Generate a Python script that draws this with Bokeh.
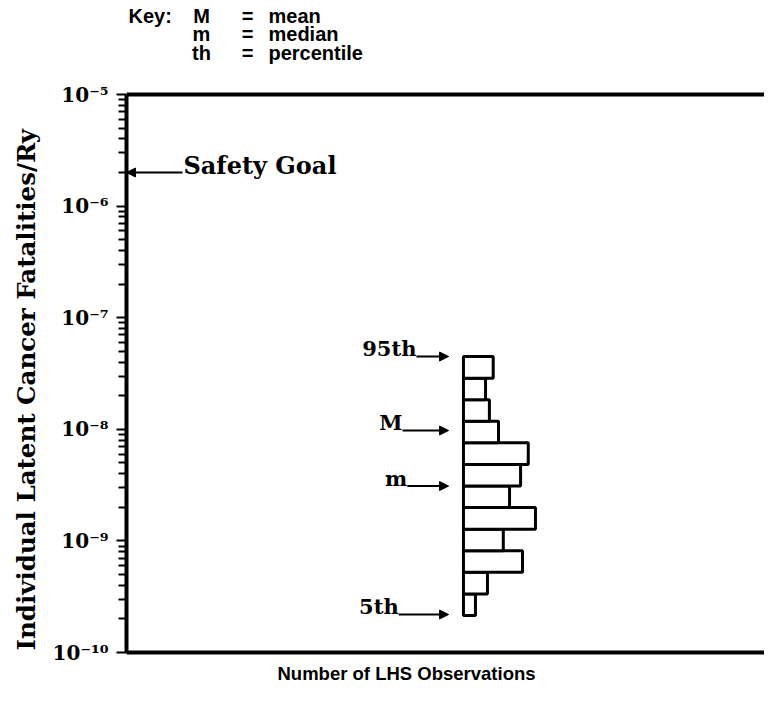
from bokeh.plotting import figure
from bokeh.models import (Range1d, FixedTicker, CustomJSTickFormatter, Span,
                          Arrow, NormalHead, Title, ColumnDataSource)
from bokeh.core.properties import value
from bokeh.embed import file_html
from bokeh.resources import INLINE
import math

# ---- data ----
tick_values = [1e-10, 1e-9, 1e-8, 1e-7, 1e-6, 1e-5]
tick_labels = ["10\u207b\u00b9\u2070", "10\u207b\u2079", "10\u207b\u2078",
               "10\u207b\u2077", "10\u207b\u2076", "10\u207b\u2075"]

# histogram bin edges (fatalities / Ry), bottom to top
bin_edges = [2.15e-10, 3.35e-10, 5.24e-10, 8.17e-10, 1.27e-9, 1.99e-9, 3.10e-9,
             4.84e-9, 7.56e-9, 1.18e-8, 1.84e-8, 2.87e-8, 4.49e-8]
# number of LHS observations per bin, bottom to top
bin_counts = [2.5, 5.0, 12.3, 8.3, 15.0, 9.6, 11.9, 13.5, 7.3, 5.4, 4.6, 6.2]

# statistics marked by arrows
stat_labels = ["95th", "M", "m", "5th"]
stat_values = [4.49e-8, 9.75e-9, 3.10e-9, 2.19e-10]

safety_goal = 2e-6

key_symbols = ["M", "m", "th"]
key_meanings = ["mean", "median", "percentile"]

y_label = "Individual Latent Cancer Fatalities/Ry"
x_label = "Number of LHS Observations"

# ---- layout (pixels) ----
W, H = 764, 695
FRAME_LEFT = 126
AXIS_TOP_PX = 94        # where 1e-5 sits
FRAME_BOTTOM = 652      # where 1e-10 sits
px_per_decade = (FRAME_BOTTOM - AXIS_TOP_PX) / 5.0
px_per_obs = 4.8
x_start = -70.2
x_end = x_start + (W - FRAME_LEFT) / px_per_obs
y_top = 10 ** (math.log10(tick_values[-1]) + AXIS_TOP_PX / px_per_decade)


def px_to_x(px):
    return x_start + (px - FRAME_LEFT) / px_per_obs


def px_to_y(py):
    return 10 ** (math.log10(tick_values[-1]) + (AXIS_TOP_PX - py) / px_per_decade)


p = figure(width=W, height=H, y_axis_type="log", output_backend="svg",
           toolbar_location=None, title=None,
           x_range=Range1d(x_start, x_end), y_range=Range1d(tick_values[0], y_top),
           min_border_left=FRAME_LEFT, min_border_right=0, min_border_top=0,
           min_border_bottom=H - FRAME_BOTTOM)
p.outline_line_color = None
p.xgrid.visible = False
p.ygrid.visible = False
p.background_fill_color = "white"
p.border_fill_color = "white"

serif = value("DejaVu Serif")
sans = value("Liberation Sans")

# y axis
minor = [k * 10.0 ** n for n in range(-10, -5) for k in range(2, 10)]
yax = p.yaxis[0]
yax.bounds = (tick_values[0], tick_values[-1])
yax.ticker = FixedTicker(ticks=tick_values, minor_ticks=minor)
yax.formatter = CustomJSTickFormatter(args=dict(vals=tick_values, labs=tick_labels), code="""
    let best = 0, bd = 1e9;
    for (let i = 0; i < vals.length; i++) {
        const d = Math.abs(Math.log10(vals[i]) - Math.log10(tick));
        if (d < bd) { bd = d; best = i; }
    }
    return labs[best];
""")
yax.axis_line_width = 4
yax.major_tick_in = 0
yax.major_tick_out = 10
yax.minor_tick_in = 0
yax.minor_tick_out = 8
yax.major_tick_line_width = 2
yax.minor_tick_line_width = 2
yax.major_label_text_font = "DejaVu Serif"
yax.major_label_text_font_style = "bold"
yax.major_label_text_font_size = "20px"
yax.major_label_text_color = "black"
yax.major_label_standoff = 8

p.add_layout(Title(text=y_label, align="left", offset=2, standoff=17,
                   text_font="DejaVu Serif", text_font_style="bold",
                   text_font_size="24.5px", text_color="black"), "left")

# x axis
xax = p.xaxis[0]
xax.ticker = FixedTicker(ticks=[])
xax.axis_line_width = 4
xax.major_tick_line_color = None
xax.minor_tick_line_color = None
xax.major_label_text_font_size = "0px"
p.add_layout(Title(text=x_label, align="left", offset=151, standoff=16,
                   text_font="Liberation Sans", text_font_style="bold",
                   text_font_size="18.5px", text_color="black"), "below")

# top border of the plotting box
p.add_layout(Span(location=tick_values[-1], dimension="width", line_width=4,
                  line_color="black"))

# histogram
hist = ColumnDataSource(dict(left=[0] * len(bin_counts), right=bin_counts,
                             bottom=bin_edges[:-1], top=bin_edges[1:]))
p.quad(left="left", right="right", bottom="bottom", top="top", source=hist,
       fill_color="white", line_color="black", line_width=3)

# stat arrows and labels
text_end = [-9.8, -12.7, -11.7, -13.5]
arrow_tip = -3.1
stats = ColumnDataSource(dict(x0=text_end, x1=[arrow_tip] * 4, y=stat_values,
                              lab=stat_labels))
p.add_layout(Arrow(x_start="x0", y_start="y", x_end="x1", y_end="y", source=stats,
                   line_width=2, line_color="black",
                   end=NormalHead(size=9, fill_color="black", line_color="black")))
p.text(x="x0", y="y", text="lab", source=stats, text_font=serif,
       text_font_style="bold", text_font_size="21px", text_align="right",
       text_baseline="alphabetic", text_color="black", y_offset=-8)

# safety goal
sg_text_x = px_to_x(182)
p.add_layout(Arrow(x_start=sg_text_x, y_start=safety_goal, x_end=x_start, y_end=safety_goal,
                   line_width=2, line_color="black",
                   end=NormalHead(size=9, fill_color="black", line_color="black")))
p.text(x=[sg_text_x + 0.2], y=[safety_goal], text=["Safety Goal"], text_font=serif,
       text_font_style="bold", text_font_size="24px", text_baseline="alphabetic",
       text_color="black", y_offset=-7)

# key above the plotting box
key_rows_px = [15, 33, 52]
key_y = [px_to_y(v) for v in key_rows_px]
p.text(x=[px_to_x(128)], y=[key_y[0]], text=["Key:"], text_font=sans,
       text_font_style="bold", text_font_size="20px", text_baseline="alphabetic",
       text_color="black")
p.text(x=[px_to_x(201)] * 3, y=key_y, text=key_symbols, text_font=sans,
       text_font_style="bold", text_font_size="20px", text_align="center",
       text_baseline="alphabetic", text_color="black")
p.text(x=[px_to_x(247)] * 3, y=key_y, text=["="] * 3, text_font=sans,
       text_font_style="bold", text_font_size="20px", text_align="center",
       text_baseline="alphabetic", text_color="black")
p.text(x=[px_to_x(268)] * 3, y=key_y, text=key_meanings, text_font=sans,
       text_font_style="bold", text_font_size="20px", text_baseline="alphabetic",
       text_color="black")

open("out.html", "w").write(file_html(p, INLINE))
